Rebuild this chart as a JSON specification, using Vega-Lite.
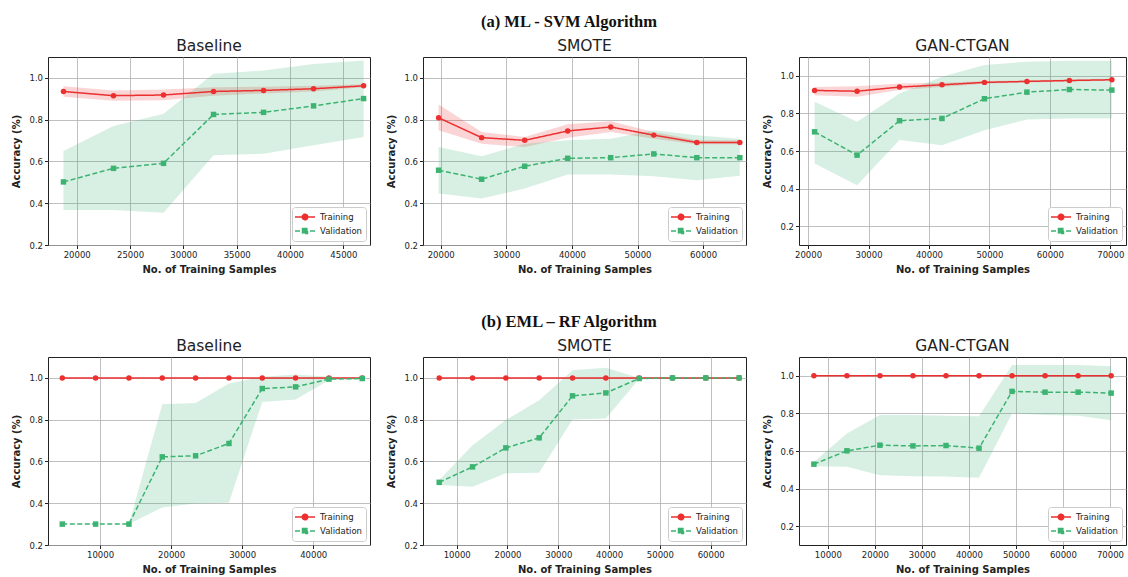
{
  "$schema": "https://vega.github.io/schema/vega-lite/v6.json",
  "background": "white",
  "padding": {"left": 11, "top": 13, "right": 0, "bottom": 0},
  "datasets": {
    "p1": [
      {"series": "Training", "x": 18760, "y": 0.935, "lo": 0.910, "hi": 0.960},
      {"series": "Training", "x": 23450, "y": 0.915, "lo": 0.890, "hi": 0.940},
      {"series": "Training", "x": 28140, "y": 0.918, "lo": 0.893, "hi": 0.945},
      {"series": "Training", "x": 32830, "y": 0.935, "lo": 0.915, "hi": 0.955},
      {"series": "Training", "x": 37520, "y": 0.940, "lo": 0.925, "hi": 0.958},
      {"series": "Training", "x": 42210, "y": 0.948, "lo": 0.935, "hi": 0.962},
      {"series": "Training", "x": 46900, "y": 0.962, "lo": 0.955, "hi": 0.970},
      {"series": "Validation", "x": 18760, "y": 0.502, "lo": 0.367, "hi": 0.650},
      {"series": "Validation", "x": 23450, "y": 0.567, "lo": 0.367, "hi": 0.770},
      {"series": "Validation", "x": 28140, "y": 0.591, "lo": 0.354, "hi": 0.828},
      {"series": "Validation", "x": 32830, "y": 0.825, "lo": 0.630, "hi": 1.020},
      {"series": "Validation", "x": 37520, "y": 0.835, "lo": 0.637, "hi": 1.035},
      {"series": "Validation", "x": 42210, "y": 0.866, "lo": 0.677, "hi": 1.067},
      {"series": "Validation", "x": 46900, "y": 0.901, "lo": 0.717, "hi": 1.083}
    ],
    "p2": [
      {"series": "Training", "x": 19680, "y": 0.809, "lo": 0.749, "hi": 0.873},
      {"series": "Training", "x": 26240, "y": 0.714, "lo": 0.685, "hi": 0.741},
      {"series": "Training", "x": 32800, "y": 0.701, "lo": 0.669, "hi": 0.717},
      {"series": "Training", "x": 39360, "y": 0.746, "lo": 0.714, "hi": 0.778},
      {"series": "Training", "x": 45920, "y": 0.765, "lo": 0.741, "hi": 0.793},
      {"series": "Training", "x": 52480, "y": 0.726, "lo": 0.709, "hi": 0.741},
      {"series": "Training", "x": 59040, "y": 0.691, "lo": 0.682, "hi": 0.701},
      {"series": "Training", "x": 65600, "y": 0.691, "lo": 0.682, "hi": 0.701},
      {"series": "Validation", "x": 19680, "y": 0.558, "lo": 0.447, "hi": 0.669},
      {"series": "Validation", "x": 26240, "y": 0.515, "lo": 0.423, "hi": 0.625},
      {"series": "Validation", "x": 32800, "y": 0.577, "lo": 0.470, "hi": 0.685},
      {"series": "Validation", "x": 39360, "y": 0.615, "lo": 0.537, "hi": 0.701},
      {"series": "Validation", "x": 45920, "y": 0.618, "lo": 0.537, "hi": 0.709},
      {"series": "Validation", "x": 52480, "y": 0.636, "lo": 0.529, "hi": 0.749},
      {"series": "Validation", "x": 59040, "y": 0.618, "lo": 0.510, "hi": 0.725},
      {"series": "Validation", "x": 65600, "y": 0.618, "lo": 0.531, "hi": 0.709}
    ],
    "p3": [
      {"series": "Training", "x": 21078, "y": 0.922, "lo": 0.897, "hi": 0.941},
      {"series": "Training", "x": 28104, "y": 0.918, "lo": 0.888, "hi": 0.945},
      {"series": "Training", "x": 35130, "y": 0.940, "lo": 0.924, "hi": 0.959},
      {"series": "Training", "x": 42156, "y": 0.952, "lo": 0.941, "hi": 0.963},
      {"series": "Training", "x": 49182, "y": 0.965, "lo": 0.958, "hi": 0.972},
      {"series": "Training", "x": 56208, "y": 0.970, "lo": 0.964, "hi": 0.976},
      {"series": "Training", "x": 63234, "y": 0.975, "lo": 0.970, "hi": 0.980},
      {"series": "Training", "x": 70260, "y": 0.979, "lo": 0.974, "hi": 0.984},
      {"series": "Validation", "x": 21078, "y": 0.702, "lo": 0.533, "hi": 0.862},
      {"series": "Validation", "x": 28104, "y": 0.578, "lo": 0.418, "hi": 0.755},
      {"series": "Validation", "x": 35130, "y": 0.761, "lo": 0.658, "hi": 0.906},
      {"series": "Validation", "x": 42156, "y": 0.773, "lo": 0.631, "hi": 0.995},
      {"series": "Validation", "x": 49182, "y": 0.878, "lo": 0.711, "hi": 1.057},
      {"series": "Validation", "x": 56208, "y": 0.913, "lo": 0.768, "hi": 1.075},
      {"series": "Validation", "x": 63234, "y": 0.927, "lo": 0.773, "hi": 1.080},
      {"series": "Validation", "x": 70260, "y": 0.924, "lo": 0.773, "hi": 1.080}
    ],
    "p4": [
      {"series": "Training", "x": 4690, "y": 1.0, "lo": 1.0, "hi": 1.0},
      {"series": "Training", "x": 9380, "y": 1.0, "lo": 1.0, "hi": 1.0},
      {"series": "Training", "x": 14070, "y": 1.0, "lo": 1.0, "hi": 1.0},
      {"series": "Training", "x": 18760, "y": 1.0, "lo": 1.0, "hi": 1.0},
      {"series": "Training", "x": 23450, "y": 1.0, "lo": 1.0, "hi": 1.0},
      {"series": "Training", "x": 28140, "y": 1.0, "lo": 1.0, "hi": 1.0},
      {"series": "Training", "x": 32830, "y": 1.0, "lo": 1.0, "hi": 1.0},
      {"series": "Training", "x": 37520, "y": 1.0, "lo": 1.0, "hi": 1.0},
      {"series": "Training", "x": 42210, "y": 1.0, "lo": 1.0, "hi": 1.0},
      {"series": "Training", "x": 46900, "y": 1.0, "lo": 1.0, "hi": 1.0},
      {"series": "Validation", "x": 4690, "y": 0.300, "lo": 0.300, "hi": 0.300},
      {"series": "Validation", "x": 9380, "y": 0.300, "lo": 0.300, "hi": 0.300},
      {"series": "Validation", "x": 14070, "y": 0.300, "lo": 0.300, "hi": 0.300},
      {"series": "Validation", "x": 18760, "y": 0.622, "lo": 0.380, "hi": 0.874},
      {"series": "Validation", "x": 23450, "y": 0.627, "lo": 0.399, "hi": 0.880},
      {"series": "Validation", "x": 28140, "y": 0.686, "lo": 0.402, "hi": 0.973},
      {"series": "Validation", "x": 32830, "y": 0.949, "lo": 0.885, "hi": 1.005},
      {"series": "Validation", "x": 37520, "y": 0.957, "lo": 0.896, "hi": 1.016},
      {"series": "Validation", "x": 42210, "y": 0.994, "lo": 0.989, "hi": 1.005},
      {"series": "Validation", "x": 46900, "y": 0.997, "lo": 0.994, "hi": 1.000}
    ],
    "p5": [
      {"series": "Training", "x": 6560, "y": 1.0, "lo": 1.0, "hi": 1.0},
      {"series": "Training", "x": 13120, "y": 1.0, "lo": 1.0, "hi": 1.0},
      {"series": "Training", "x": 19680, "y": 1.0, "lo": 1.0, "hi": 1.0},
      {"series": "Training", "x": 26240, "y": 1.0, "lo": 1.0, "hi": 1.0},
      {"series": "Training", "x": 32800, "y": 1.0, "lo": 1.0, "hi": 1.0},
      {"series": "Training", "x": 39360, "y": 1.0, "lo": 1.0, "hi": 1.0},
      {"series": "Training", "x": 45920, "y": 1.0, "lo": 1.0, "hi": 1.0},
      {"series": "Training", "x": 52480, "y": 1.0, "lo": 1.0, "hi": 1.0},
      {"series": "Training", "x": 59040, "y": 1.0, "lo": 1.0, "hi": 1.0},
      {"series": "Training", "x": 65600, "y": 1.0, "lo": 1.0, "hi": 1.0},
      {"series": "Validation", "x": 6560, "y": 0.500, "lo": 0.487, "hi": 0.511},
      {"series": "Validation", "x": 13120, "y": 0.574, "lo": 0.479, "hi": 0.678},
      {"series": "Validation", "x": 19680, "y": 0.665, "lo": 0.543, "hi": 0.798},
      {"series": "Validation", "x": 26240, "y": 0.713, "lo": 0.546, "hi": 0.893},
      {"series": "Validation", "x": 32800, "y": 0.914, "lo": 0.801, "hi": 1.037},
      {"series": "Validation", "x": 39360, "y": 0.928, "lo": 0.806, "hi": 1.049},
      {"series": "Validation", "x": 45920, "y": 0.997, "lo": 0.995, "hi": 1.000},
      {"series": "Validation", "x": 52480, "y": 1.000, "lo": 1.000, "hi": 1.000},
      {"series": "Validation", "x": 59040, "y": 1.000, "lo": 1.000, "hi": 1.000},
      {"series": "Validation", "x": 65600, "y": 1.000, "lo": 1.000, "hi": 1.000}
    ],
    "p6": [
      {"series": "Training", "x": 7026, "y": 1.0, "lo": 1.0, "hi": 1.0},
      {"series": "Training", "x": 14052, "y": 1.0, "lo": 1.0, "hi": 1.0},
      {"series": "Training", "x": 21078, "y": 1.0, "lo": 1.0, "hi": 1.0},
      {"series": "Training", "x": 28104, "y": 1.0, "lo": 1.0, "hi": 1.0},
      {"series": "Training", "x": 35130, "y": 1.0, "lo": 1.0, "hi": 1.0},
      {"series": "Training", "x": 42156, "y": 1.0, "lo": 1.0, "hi": 1.0},
      {"series": "Training", "x": 49182, "y": 1.0, "lo": 1.0, "hi": 1.0},
      {"series": "Training", "x": 56208, "y": 1.0, "lo": 1.0, "hi": 1.0},
      {"series": "Training", "x": 63234, "y": 1.0, "lo": 1.0, "hi": 1.0},
      {"series": "Training", "x": 70260, "y": 1.0, "lo": 1.0, "hi": 1.0},
      {"series": "Validation", "x": 7026, "y": 0.530, "lo": 0.519, "hi": 0.542},
      {"series": "Validation", "x": 14052, "y": 0.601, "lo": 0.516, "hi": 0.693},
      {"series": "Validation", "x": 21078, "y": 0.631, "lo": 0.471, "hi": 0.791},
      {"series": "Validation", "x": 28104, "y": 0.627, "lo": 0.466, "hi": 0.791},
      {"series": "Validation", "x": 35130, "y": 0.629, "lo": 0.465, "hi": 0.787},
      {"series": "Validation", "x": 42156, "y": 0.615, "lo": 0.458, "hi": 0.785},
      {"series": "Validation", "x": 49182, "y": 0.917, "lo": 0.800, "hi": 1.057},
      {"series": "Validation", "x": 56208, "y": 0.913, "lo": 0.791, "hi": 1.057},
      {"series": "Validation", "x": 63234, "y": 0.913, "lo": 0.788, "hi": 1.057},
      {"series": "Validation", "x": 70260, "y": 0.908, "lo": 0.764, "hi": 1.051}
    ]
  },
  "spacing": 38,
  "resolve": {"scale": {"x": "independent", "y": "independent", "color": "independent", "strokeDash": "independent"}, "legend": {"color": "independent", "strokeDash": "independent"}},
  "vconcat": [
    {
      "title": {"text": "(a) ML - SVM Algorithm", "font": "Liberation Serif", "fontWeight": "bold", "fontSize": 16.5, "color": "#111", "anchor": "middle", "offset": 8},
      "bounds": "flush",
      "spacing": 53,
      "resolve": {"scale": {"x": "independent", "y": "independent", "color": "independent", "strokeDash": "independent"}, "legend": {"color": "independent", "strokeDash": "independent"}},
      "hconcat": [
        {
          "width": 322, "height": 188,
          "title": {"text": "Baseline", "frame": "group"},
          "data": {"name": "p1"},
          "encoding": {
            "x": {"field": "x", "type": "quantitative", "title": "No. of Training Samples", "scale": {"domain": [17310, 47500], "nice": false, "zero": false}, "axis": {"values": [20000, 25000, 30000, 35000, 40000, 45000], "format": "d"}},
            "y": {"field": "y", "type": "quantitative", "title": "Accuracy (%)", "scale": {"domain": [0.2, 1.1], "nice": false, "zero": false}, "axis": {"values": [0.2, 0.4, 0.6, 0.8, 1.0], "format": ".1f"}}
          },
          "layer": [
            {"mark": {"type": "area", "opacity": 0.2, "clip": true}, "encoding": {"y": {"field": "lo", "type": "quantitative", "title": "Accuracy (%)", "scale": {"domain": [0.2, 1.1], "nice": false, "zero": false}}, "y2": {"field": "hi"}, "fill": {"field": "series", "type": "nominal", "scale": {"domain": ["Training", "Validation"], "range": ["#ec2f2f", "#3cb371"]}, "legend": null}}},
            {"mark": {"type": "line", "strokeWidth": 1.5, "clip": true}, "encoding": {"color": {"field": "series", "type": "nominal", "scale": {"domain": ["Training", "Validation"], "range": ["#ec2f2f", "#3cb371"]}, "legend": {"title": null, "encode": {"symbols": {"update": {"shape": {"signal": "datum.value === 'Training' ? 'M-1.4,0H2.6M1.15,0A0.55,0.55,0,1,1,0.05,0A0.55,0.55,0,1,1,1.15,0Z' : 'M-1.4,0H2.6M0.1,-0.5H1.1V0.5H0.1Z'"}, "fill": {"signal": "datum.value === 'Training' ? '#ec2f2f' : '#3cb371'"}}}}}}, "strokeDash": {"field": "series", "type": "nominal", "scale": {"domain": ["Training", "Validation"], "range": [[1, 0], [5, 2.5]]}, "legend": {"title": null}}}},
            {"mark": {"type": "point", "filled": true, "size": 30, "opacity": 1, "clip": true}, "encoding": {"fill": {"field": "series", "type": "nominal", "scale": {"domain": ["Training", "Validation"], "range": ["#ec2f2f", "#3cb371"]}, "legend": null}, "shape": {"field": "series", "type": "nominal", "scale": {"domain": ["Training", "Validation"], "range": ["circle", "square"]}, "legend": null}}}
          ]
        },
        {
          "width": 323, "height": 188,
          "title": {"text": "SMOTE", "frame": "group"},
          "data": {"name": "p2"},
          "encoding": {
            "x": {"field": "x", "type": "quantitative", "title": "No. of Training Samples", "scale": {"domain": [17300, 66540], "nice": false, "zero": false}, "axis": {"values": [20000, 30000, 40000, 50000, 60000], "format": "d"}},
            "y": {"field": "y", "type": "quantitative", "title": "Accuracy (%)", "scale": {"domain": [0.2, 1.1], "nice": false, "zero": false}, "axis": {"values": [0.2, 0.4, 0.6, 0.8, 1.0], "format": ".1f"}}
          },
          "layer": [
            {"mark": {"type": "area", "opacity": 0.2, "clip": true}, "encoding": {"y": {"field": "lo", "type": "quantitative", "title": "Accuracy (%)", "scale": {"domain": [0.2, 1.1], "nice": false, "zero": false}}, "y2": {"field": "hi"}, "fill": {"field": "series", "type": "nominal", "scale": {"domain": ["Training", "Validation"], "range": ["#ec2f2f", "#3cb371"]}, "legend": null}}},
            {"mark": {"type": "line", "strokeWidth": 1.5, "clip": true}, "encoding": {"color": {"field": "series", "type": "nominal", "scale": {"domain": ["Training", "Validation"], "range": ["#ec2f2f", "#3cb371"]}, "legend": {"title": null, "encode": {"symbols": {"update": {"shape": {"signal": "datum.value === 'Training' ? 'M-1.4,0H2.6M1.15,0A0.55,0.55,0,1,1,0.05,0A0.55,0.55,0,1,1,1.15,0Z' : 'M-1.4,0H2.6M0.1,-0.5H1.1V0.5H0.1Z'"}, "fill": {"signal": "datum.value === 'Training' ? '#ec2f2f' : '#3cb371'"}}}}}}, "strokeDash": {"field": "series", "type": "nominal", "scale": {"domain": ["Training", "Validation"], "range": [[1, 0], [5, 2.5]]}, "legend": {"title": null}}}},
            {"mark": {"type": "point", "filled": true, "size": 30, "opacity": 1, "clip": true}, "encoding": {"fill": {"field": "series", "type": "nominal", "scale": {"domain": ["Training", "Validation"], "range": ["#ec2f2f", "#3cb371"]}, "legend": null}, "shape": {"field": "series", "type": "nominal", "scale": {"domain": ["Training", "Validation"], "range": ["circle", "square"]}, "legend": null}}}
          ]
        },
        {
          "width": 327, "height": 188,
          "title": {"text": "GAN-CTGAN", "frame": "group"},
          "data": {"name": "p3"},
          "encoding": {
            "x": {"field": "x", "type": "quantitative", "title": "No. of Training Samples", "scale": {"domain": [18500, 72600], "nice": false, "zero": false}, "axis": {"values": [20000, 30000, 40000, 50000, 60000, 70000], "format": "d"}},
            "y": {"field": "y", "type": "quantitative", "title": "Accuracy (%)", "scale": {"domain": [0.1, 1.1], "nice": false, "zero": false}, "axis": {"values": [0.2, 0.4, 0.6, 0.8, 1.0], "format": ".1f"}}
          },
          "layer": [
            {"mark": {"type": "area", "opacity": 0.2, "clip": true}, "encoding": {"y": {"field": "lo", "type": "quantitative", "title": "Accuracy (%)", "scale": {"domain": [0.1, 1.1], "nice": false, "zero": false}}, "y2": {"field": "hi"}, "fill": {"field": "series", "type": "nominal", "scale": {"domain": ["Training", "Validation"], "range": ["#ec2f2f", "#3cb371"]}, "legend": null}}},
            {"mark": {"type": "line", "strokeWidth": 1.5, "clip": true}, "encoding": {"color": {"field": "series", "type": "nominal", "scale": {"domain": ["Training", "Validation"], "range": ["#ec2f2f", "#3cb371"]}, "legend": {"title": null, "encode": {"symbols": {"update": {"shape": {"signal": "datum.value === 'Training' ? 'M-1.4,0H2.6M1.15,0A0.55,0.55,0,1,1,0.05,0A0.55,0.55,0,1,1,1.15,0Z' : 'M-1.4,0H2.6M0.1,-0.5H1.1V0.5H0.1Z'"}, "fill": {"signal": "datum.value === 'Training' ? '#ec2f2f' : '#3cb371'"}}}}}}, "strokeDash": {"field": "series", "type": "nominal", "scale": {"domain": ["Training", "Validation"], "range": [[1, 0], [5, 2.5]]}, "legend": {"title": null}}}},
            {"mark": {"type": "point", "filled": true, "size": 30, "opacity": 1, "clip": true}, "encoding": {"fill": {"field": "series", "type": "nominal", "scale": {"domain": ["Training", "Validation"], "range": ["#ec2f2f", "#3cb371"]}, "legend": null}, "shape": {"field": "series", "type": "nominal", "scale": {"domain": ["Training", "Validation"], "range": ["circle", "square"]}, "legend": null}}}
          ]
        }
      ]
    },
    {
      "title": {"text": "(b) EML – RF Algorithm", "font": "Liberation Serif", "fontWeight": "bold", "fontSize": 16.5, "color": "#111", "anchor": "middle", "offset": 8},
      "bounds": "flush",
      "spacing": 53,
      "resolve": {"scale": {"x": "independent", "y": "independent", "color": "independent", "strokeDash": "independent"}, "legend": {"color": "independent", "strokeDash": "independent"}},
      "hconcat": [
        {
          "width": 322, "height": 188,
          "title": {"text": "Baseline", "frame": "group"},
          "data": {"name": "p4"},
          "encoding": {
            "x": {"field": "x", "type": "quantitative", "title": "No. of Training Samples", "scale": {"domain": [2680, 47990], "nice": false, "zero": false}, "axis": {"values": [10000, 20000, 30000, 40000], "format": "d"}},
            "y": {"field": "y", "type": "quantitative", "title": "Accuracy (%)", "scale": {"domain": [0.2, 1.1], "nice": false, "zero": false}, "axis": {"values": [0.2, 0.4, 0.6, 0.8, 1.0], "format": ".1f"}}
          },
          "layer": [
            {"mark": {"type": "area", "opacity": 0.2, "clip": true}, "encoding": {"y": {"field": "lo", "type": "quantitative", "title": "Accuracy (%)", "scale": {"domain": [0.2, 1.1], "nice": false, "zero": false}}, "y2": {"field": "hi"}, "fill": {"field": "series", "type": "nominal", "scale": {"domain": ["Training", "Validation"], "range": ["#ec2f2f", "#3cb371"]}, "legend": null}}},
            {"mark": {"type": "line", "strokeWidth": 1.5, "clip": true}, "encoding": {"color": {"field": "series", "type": "nominal", "scale": {"domain": ["Training", "Validation"], "range": ["#ec2f2f", "#3cb371"]}, "legend": {"title": null, "encode": {"symbols": {"update": {"shape": {"signal": "datum.value === 'Training' ? 'M-1.4,0H2.6M1.15,0A0.55,0.55,0,1,1,0.05,0A0.55,0.55,0,1,1,1.15,0Z' : 'M-1.4,0H2.6M0.1,-0.5H1.1V0.5H0.1Z'"}, "fill": {"signal": "datum.value === 'Training' ? '#ec2f2f' : '#3cb371'"}}}}}}, "strokeDash": {"field": "series", "type": "nominal", "scale": {"domain": ["Training", "Validation"], "range": [[1, 0], [5, 2.5]]}, "legend": {"title": null}}}},
            {"mark": {"type": "point", "filled": true, "size": 30, "opacity": 1, "clip": true}, "encoding": {"fill": {"field": "series", "type": "nominal", "scale": {"domain": ["Training", "Validation"], "range": ["#ec2f2f", "#3cb371"]}, "legend": null}, "shape": {"field": "series", "type": "nominal", "scale": {"domain": ["Training", "Validation"], "range": ["circle", "square"]}, "legend": null}}}
          ]
        },
        {
          "width": 323, "height": 188,
          "title": {"text": "SMOTE", "frame": "group"},
          "data": {"name": "p5"},
          "encoding": {
            "x": {"field": "x", "type": "quantitative", "title": "No. of Training Samples", "scale": {"domain": [3370, 66950], "nice": false, "zero": false}, "axis": {"values": [10000, 20000, 30000, 40000, 50000, 60000], "format": "d"}},
            "y": {"field": "y", "type": "quantitative", "title": "Accuracy (%)", "scale": {"domain": [0.2, 1.1], "nice": false, "zero": false}, "axis": {"values": [0.2, 0.4, 0.6, 0.8, 1.0], "format": ".1f"}}
          },
          "layer": [
            {"mark": {"type": "area", "opacity": 0.2, "clip": true}, "encoding": {"y": {"field": "lo", "type": "quantitative", "title": "Accuracy (%)", "scale": {"domain": [0.2, 1.1], "nice": false, "zero": false}}, "y2": {"field": "hi"}, "fill": {"field": "series", "type": "nominal", "scale": {"domain": ["Training", "Validation"], "range": ["#ec2f2f", "#3cb371"]}, "legend": null}}},
            {"mark": {"type": "line", "strokeWidth": 1.5, "clip": true}, "encoding": {"color": {"field": "series", "type": "nominal", "scale": {"domain": ["Training", "Validation"], "range": ["#ec2f2f", "#3cb371"]}, "legend": {"title": null, "encode": {"symbols": {"update": {"shape": {"signal": "datum.value === 'Training' ? 'M-1.4,0H2.6M1.15,0A0.55,0.55,0,1,1,0.05,0A0.55,0.55,0,1,1,1.15,0Z' : 'M-1.4,0H2.6M0.1,-0.5H1.1V0.5H0.1Z'"}, "fill": {"signal": "datum.value === 'Training' ? '#ec2f2f' : '#3cb371'"}}}}}}, "strokeDash": {"field": "series", "type": "nominal", "scale": {"domain": ["Training", "Validation"], "range": [[1, 0], [5, 2.5]]}, "legend": {"title": null}}}},
            {"mark": {"type": "point", "filled": true, "size": 30, "opacity": 1, "clip": true}, "encoding": {"fill": {"field": "series", "type": "nominal", "scale": {"domain": ["Training", "Validation"], "range": ["#ec2f2f", "#3cb371"]}, "legend": null}, "shape": {"field": "series", "type": "nominal", "scale": {"domain": ["Training", "Validation"], "range": ["circle", "square"]}, "legend": null}}}
          ]
        },
        {
          "width": 327, "height": 188,
          "title": {"text": "GAN-CTGAN", "frame": "group"},
          "data": {"name": "p6"},
          "encoding": {
            "x": {"field": "x", "type": "quantitative", "title": "No. of Training Samples", "scale": {"domain": [3860, 73420], "nice": false, "zero": false}, "axis": {"values": [10000, 20000, 30000, 40000, 50000, 60000, 70000], "format": "d"}},
            "y": {"field": "y", "type": "quantitative", "title": "Accuracy (%)", "scale": {"domain": [0.1, 1.1], "nice": false, "zero": false}, "axis": {"values": [0.2, 0.4, 0.6, 0.8, 1.0], "format": ".1f"}}
          },
          "layer": [
            {"mark": {"type": "area", "opacity": 0.2, "clip": true}, "encoding": {"y": {"field": "lo", "type": "quantitative", "title": "Accuracy (%)", "scale": {"domain": [0.1, 1.1], "nice": false, "zero": false}}, "y2": {"field": "hi"}, "fill": {"field": "series", "type": "nominal", "scale": {"domain": ["Training", "Validation"], "range": ["#ec2f2f", "#3cb371"]}, "legend": null}}},
            {"mark": {"type": "line", "strokeWidth": 1.5, "clip": true}, "encoding": {"color": {"field": "series", "type": "nominal", "scale": {"domain": ["Training", "Validation"], "range": ["#ec2f2f", "#3cb371"]}, "legend": {"title": null, "encode": {"symbols": {"update": {"shape": {"signal": "datum.value === 'Training' ? 'M-1.4,0H2.6M1.15,0A0.55,0.55,0,1,1,0.05,0A0.55,0.55,0,1,1,1.15,0Z' : 'M-1.4,0H2.6M0.1,-0.5H1.1V0.5H0.1Z'"}, "fill": {"signal": "datum.value === 'Training' ? '#ec2f2f' : '#3cb371'"}}}}}}, "strokeDash": {"field": "series", "type": "nominal", "scale": {"domain": ["Training", "Validation"], "range": [[1, 0], [5, 2.5]]}, "legend": {"title": null}}}},
            {"mark": {"type": "point", "filled": true, "size": 30, "opacity": 1, "clip": true}, "encoding": {"fill": {"field": "series", "type": "nominal", "scale": {"domain": ["Training", "Validation"], "range": ["#ec2f2f", "#3cb371"]}, "legend": null}, "shape": {"field": "series", "type": "nominal", "scale": {"domain": ["Training", "Validation"], "range": ["circle", "square"]}, "legend": null}}}
          ]
        }
      ]
    }
  ],
  "config": {
    "font": "DejaVu Sans",
    "view": {"stroke": "#222", "strokeWidth": 1},
    "axis": {"domain": false, "grid": true, "gridColor": "#b0b0b0", "gridWidth": 0.8, "tickColor": "#222", "tickSize": 3.5, "labelFont": "DejaVu Sans", "labelFontSize": 8.5, "labelColor": "#222", "labelPadding": 2, "titleFont": "DejaVu Sans", "titleFontSize": 10, "titleFontWeight": "bold", "titleColor": "#222"},
    "axisY": {"titlePadding": 7},
    "axisX": {"titlePadding": 5},
    "title": {"font": "DejaVu Sans", "fontSize": 15.5, "fontWeight": "normal", "color": "#222", "offset": 3},
    "legend": {"orient": "bottom-right", "offset": 4, "padding": 4, "fillColor": "white", "strokeColor": "#cccccc", "cornerRadius": 3, "labelFont": "DejaVu Sans", "labelFontSize": 8.5, "labelColor": "#222", "symbolSize": 100, "symbolStrokeWidth": 1.5, "symbolType": "M-1.4,0H2.6", "rowPadding": 2, "labelOffset": 12}
  }
}
